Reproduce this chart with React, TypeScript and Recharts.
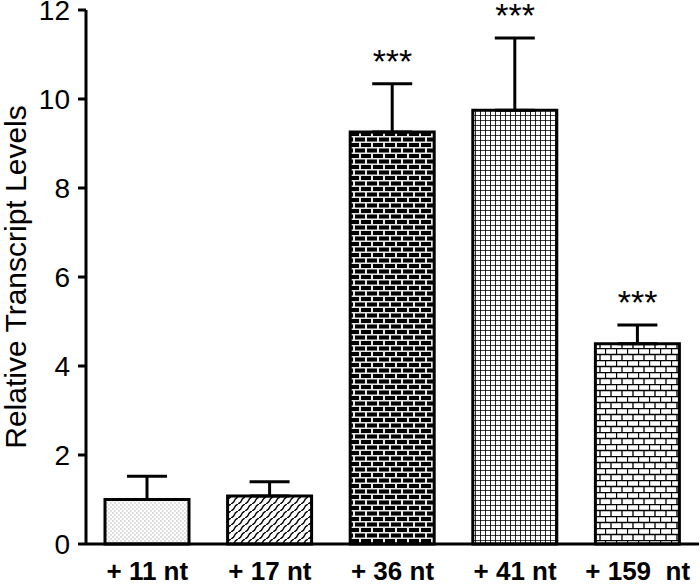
import {
  ComposedChart,
  Bar,
  Cell,
  ErrorBar,
  Line,
  XAxis,
  YAxis,
} from "recharts";

const categories = ["+ 11 nt", "+ 17 nt", "+ 36 nt", "+ 41 nt", "+ 159\u00a0 nt"];
const means = [1.0, 1.08, 9.26, 9.75, 4.5];
const errors = [0.52, 0.32, 1.08, 1.62, 0.42];
const significance = ["", "", "***", "***", "***"];
const yTicks = [0, 2, 4, 6, 8, 10, 12];

const fills = [
  "url(#dots)",
  "url(#weave)",
  "url(#darkBrick)",
  "url(#grid)",
  "url(#lightBrick)",
];

const data = categories.map((name, i) => ({
  name,
  mean: means[i],
  err: [0, errors[i]],
  top: means[i] + errors[i],
  sig: significance[i],
}));

const font = "'Liberation Sans', Arial, sans-serif";

function Stars(props: any) {
  const { cx, cy, payload, index } = props;
  if (!payload.sig) return <g key={index} />;
  return (
    <text
      key={index}
      x={cx}
      y={cy - 11}
      textAnchor="middle"
      fontSize={34}
      fontFamily={font}
      fill="#000"
    >
      {payload.sig}
    </text>
  );
}

function YLabel(props: any) {
  const { viewBox } = props;
  const cy = viewBox.y + viewBox.height / 2;
  return (
    <text
      x={26}
      y={cy}
      transform={`rotate(-90, 26, ${cy})`}
      textAnchor="middle"
      fontSize={30}
      fontFamily={font}
      fill="#000"
    >
      Relative Transcript Levels
    </text>
  );
}

export default function App() {
  return (
    <div style={{ position: "absolute", left: 0, top: 0, background: "#fff" }}>
      <ComposedChart
        width={700}
        height={587}
        data={data}
        margin={{ top: 10, right: 1, bottom: 0, left: 0 }}
      >
        <defs>
          <pattern id="dots" width="4" height="4" patternUnits="userSpaceOnUse">
            <rect width="4" height="4" fill="#fff" />
            <rect x="0.5" y="0.5" width="0.9" height="0.9" fill="#666" />
            <rect x="2.5" y="2.5" width="0.9" height="0.9" fill="#666" />
          </pattern>
          <pattern id="weave" width="7" height="7" patternUnits="userSpaceOnUse">
            <rect width="7" height="7" fill="#fff" />
            <path d="M0,7 Q3,5.5 3.5,3.5 Q4,1.5 7,0" fill="none" stroke="#000" strokeWidth="1.3" />
          </pattern>
          <pattern id="darkBrick" width="12" height="11" patternUnits="userSpaceOnUse">
            <rect width="12" height="11" fill="#e8e8e8" />
            <rect x="1" y="0" width="10" height="4" fill="#000" />
            <rect x="-5" y="5.5" width="10" height="4" fill="#000" />
            <rect x="7" y="5.5" width="10" height="4" fill="#000" />
          </pattern>
          <pattern id="grid" width="5" height="5" patternUnits="userSpaceOnUse">
            <rect width="5" height="5" fill="#fff" />
            <path d="M0,0 H5 M0,0 V5" stroke="#000" strokeWidth="1.7" />
          </pattern>
          <pattern id="lightBrick" width="11" height="12" patternUnits="userSpaceOnUse">
            <rect width="11" height="12" fill="#fff" />
            <path
              d="M0,0.5 H11 M0,6.5 H11 M0.5,0 V6.5 M6,6.5 V12"
              stroke="#000"
              strokeWidth="1.3"
            />
          </pattern>
        </defs>
        <XAxis
          dataKey="name"
          height={43}
          axisLine={{ stroke: "#000", strokeWidth: 3 }}
          tickLine={false}
          tickSize={0}
          tickMargin={18}
          tick={{ fontSize: 26, fontWeight: "bold", fill: "#000", fontFamily: font }}
        />
        <YAxis
          width={86}
          domain={[0, 12]}
          ticks={yTicks}
          interval={0}
          axisLine={{ stroke: "#000", strokeWidth: 3 }}
          tickLine={{ stroke: "#000", strokeWidth: 3 }}
          tickSize={8}
          tickMargin={8}
          tick={{ fontSize: 28, fill: "#000", fontFamily: font }}
          label={<YLabel />}
        />
        <Bar
          dataKey="mean"
          barSize={84}
          stroke="#000"
          strokeWidth={3}
          isAnimationActive={false}
        >
          {data.map((d, i) => (
            <Cell key={d.name} fill={fills[i]} />
          ))}
          <ErrorBar
            dataKey="err"
            direction="y"
            width={20}
            stroke="#000"
            strokeWidth={3}
          />
        </Bar>
        <Line
          dataKey="top"
          stroke="none"
          dot={Stars}
          activeDot={false}
          isAnimationActive={false}
        />
      </ComposedChart>
    </div>
  );
}
